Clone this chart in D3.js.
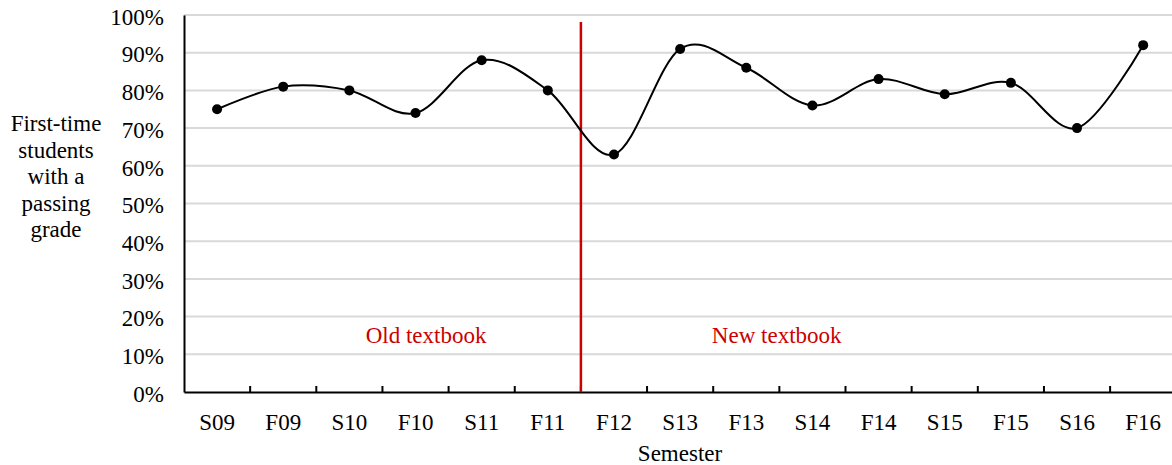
<!DOCTYPE html>
<html>
<head>
<meta charset="utf-8">
<script src="https://cdn.jsdelivr.net/npm/d3@7"></script>
<style>
  html, body { margin: 0; padding: 0; background: #fff; }
  svg { display: block; }
  text { font-family: "Liberation Serif", "Times New Roman", serif; fill: #000; }
</style>
</head>
<body>
<svg id="chart" width="1172" height="465"></svg>
<script>
// Semesters and share of first-time students who passed
const semesters = ["S09","F09","S10","F10","S11","F11","F12","S13","F13","S14","F14","S15","F15","S16","F16"];
const passRates = [75, 81, 80, 74, 88, 80, 63, 91, 86, 76, 83, 79, 82, 70, 92];
const yTicks = [0, 10, 20, 30, 40, 50, 60, 70, 80, 90, 100];
const yTitleLines = ["First-time", "students", "with a", "passing", "grade"];
const textbookSwitchAfter = "F11";
const periodLabels = ["Old textbook", "New textbook"];

const svg = d3.select("#chart");
const plotLeft = 184, plotTop = 15, plotBottom = 392;
const step = 66.15;
const plotRight = plotLeft + step * semesters.length;

const x = d3.scaleBand().domain(semesters).range([plotLeft, plotRight]).paddingInner(0).paddingOuter(0);
const y = d3.scaleLinear().domain([0, 100]).range([plotBottom, plotTop]);
const cx = d => x(d) + x.bandwidth() / 2;

// horizontal gridlines
svg.append("g")
  .selectAll("line")
  .data(yTicks.filter(t => t > 0))
  .join("line")
  .attr("x1", plotLeft).attr("x2", 1172)
  .attr("y1", d => y(d)).attr("y2", d => y(d))
  .attr("stroke", "#d9d9d9").attr("stroke-width", 2);

// y axis: line plus percent labels
const yAxis = svg.append("g")
  .attr("transform", `translate(${plotLeft},0)`)
  .call(d3.axisLeft(y).tickValues(yTicks).tickFormat(d => d + "%").tickSize(0).tickPadding(20));
yAxis.select(".domain").attr("stroke", "#000").attr("stroke-width", 2);
yAxis.selectAll("text")
  .attr("font-family", "Liberation Serif, Times New Roman, serif")
  .attr("font-size", 23)
  .attr("dy", "0.4em")
  .attr("fill", "#000");

// x axis with inward ticks at category boundaries
const xAxis = svg.append("g")
  .attr("transform", `translate(0,${plotBottom})`)
  .call(d3.axisBottom(x).tickSize(0).tickPadding(22));
xAxis.select(".domain").attr("stroke", "#000").attr("stroke-width", 2);
xAxis.selectAll("text")
  .attr("font-family", "Liberation Serif, Times New Roman, serif")
  .attr("font-size", 23)
  .attr("fill", "#000");
svg.append("g")
  .selectAll("line")
  .data(semesters.slice(1))
  .join("line")
  .attr("x1", d => x(d)).attr("x2", d => x(d))
  .attr("y1", plotBottom).attr("y2", plotBottom - 6)
  .attr("stroke", "#000").attr("stroke-width", 2);

// textbook switch marker
const switchX = x(textbookSwitchAfter) + x.bandwidth();
svg.append("line")
  .attr("x1", switchX).attr("x2", switchX)
  .attr("y1", 22).attr("y2", plotBottom)
  .attr("stroke", "#cc0000").attr("stroke-width", 2.5);

// period labels, positioned in category units from the left edge
const labelOffsets = [3.66, 8.96];
svg.append("g")
  .selectAll("text")
  .data(periodLabels)
  .join("text")
  .attr("x", (d, i) => plotLeft + labelOffsets[i] * x.step())
  .attr("y", 343)
  .attr("text-anchor", "middle")
  .attr("font-size", 23)
  .style("fill", "#cc0000")
  .text(d => d);

// smoothed line and markers
const line = d3.line()
  .x((d, i) => cx(semesters[i]))
  .y(d => y(d))
  .curve(d3.curveCardinal.tension(0));
svg.append("path")
  .datum(passRates)
  .attr("d", line)
  .attr("fill", "none")
  .attr("stroke", "#000")
  .attr("stroke-width", 2);

svg.append("g")
  .selectAll("circle")
  .data(passRates)
  .join("circle")
  .attr("cx", (d, i) => cx(semesters[i]))
  .attr("cy", d => y(d))
  .attr("r", 5)
  .attr("fill", "#000");

// axis titles
svg.append("text")
  .attr("x", 680).attr("y", 461)
  .attr("text-anchor", "middle")
  .attr("font-size", 23)
  .text("Semester");

svg.append("text")
  .attr("text-anchor", "middle")
  .attr("font-size", 23)
  .selectAll("tspan")
  .data(yTitleLines)
  .join("tspan")
  .attr("x", 56)
  .attr("y", (d, i) => 131 + i * 26.5)
  .text(d => d);
</script>
</body>
</html>
